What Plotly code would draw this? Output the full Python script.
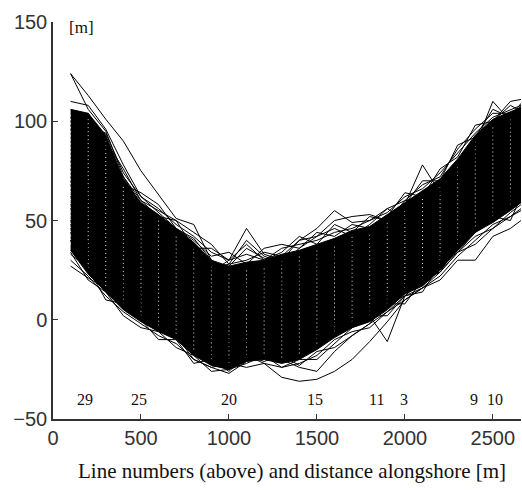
import plotly.graph_objects as go

# alongshore positions of the transects [m]
xs = [100, 200, 300, 400, 500, 600, 700, 800, 900, 1000, 1100, 1200, 1300,
      1400, 1500, 1600, 1700, 1800, 1900, 2000, 2100, 2200, 2300, 2400, 2500, 2600, 2660]

# envelope of the dense bundle of shorelines [m]
core_upper = [106, 104, 93, 71, 59, 53, 46, 39, 30, 27, 29, 30, 33, 35, 38, 41, 45, 47,
              53, 59, 65, 71, 81, 93, 101, 105, 107]
core_lower = [35, 23, 14, 5, -1, -6, -10, -18, -23, -25, -21, -20, -22, -20, -15, -9, -4, -1,
              5, 13, 17, 25, 35, 44, 49, 55, 59]

# individual shorelines that stand out from the bundle [m]
line_a = [124, 113, 101, 90, 75, 63, 51, 48, 30, 20, 15, 12, 14, 18, 24, 30, 36, 40, 45, 52, 58, 66, 75, 85, 95, 100, 103]
line_b = [124, 106, 95, 72, 60, 52, 44, 36, 26, 20, 14, 10, 12, 16, 22, 28, 34, 38, 44, 50, 56, 62, 70, 82, 92, 98, 100]
line_c = [110, 108, 96, 78, 62, 54, 46, 41, 30, 24, 18, 16, 18, 20, 24, 30, 36, 40, 46, 52, 58, 64, 72, 84, 94, 99, 101]
line_d = [80, 70, 60, 50, 42, 38, 35, 30, 24, 30, 46, 33, 30, 28, 30, 34, 38, 42, 48, 54, 60, 66, 74, 84, 94, 98, 100]
line_d2 = [76, 66, 56, 48, 40, 36, 33, 30, 26, 28, 40, 32, 29, 27, 29, 32, 36, 40, 46, 52, 58, 64, 72, 82, 92, 96, 98]
line_d3 = [72, 62, 52, 46, 38, 34, 31, 32, 27, 27, 36, 31, 28, 26, 28, 31, 35, 39, 45, 51, 57, 63, 71, 80, 90, 95, 97]
line_e = [70, 60, 52, 44, 38, 32, 28, 24, 18, 14, 16, 24, 30, 40, 46, 55, 49, 50, 56, 50, 60, 68, 78, 90, 98, 102, 104]
line_f = [68, 58, 50, 42, 36, 30, 26, 22, 16, 12, 14, 22, 28, 36, 42, 50, 52, 53, 50, 60, 62, 66, 76, 88, 96, 100, 102]
line_g = [62, 54, 46, 40, 34, 28, 24, 18, 12, 8, 10, 14, 20, 26, 32, 36, 40, 42, 50, 58, 78, 64, 76, 88, 98, 104, 106]
line_h = [58, 50, 42, 36, 30, 26, 20, 14, 8, 4, 6, 10, 16, 22, 28, 32, 36, 40, 46, 54, 62, 68, 80, 88, 110, 100, 108]
line_i = [56, 48, 40, 34, 28, 24, 18, 12, 6, 2, 4, 8, 14, 20, 26, 30, 34, 38, 44, 52, 60, 66, 76, 92, 100, 110, 111]
line_u1 = [100, 98, 94, 74, 62, 56, 48, 42, 34, 30, 33, 30, 36, 38, 40, 44, 46, 50, 54, 62, 66, 74, 84, 94, 102, 106, 108]
line_u2 = [96, 100, 90, 76, 60, 55, 50, 44, 38, 28, 30, 34, 32, 40, 42, 46, 42, 48, 56, 60, 68, 72, 86, 96, 104, 104, 107]
line_u3 = [102, 104, 88, 68, 64, 58, 46, 40, 32, 34, 28, 36, 38, 36, 44, 42, 48, 46, 52, 64, 62, 76, 82, 98, 100, 108, 105]
line_u4 = [98, 96, 86, 72, 58, 52, 50, 36, 36, 30, 38, 30, 34, 42, 38, 48, 44, 52, 50, 58, 70, 70, 88, 92, 106, 102, 109]
line_j = [27, 21, 16, 10, 5, 0, -8, -20, -24, -27, -21, -18, -16, -14, -10, -4, 0, 4, 10, 16, 22, 30, 40, 50, 56, 62, 66]
line_r = [33, 26, 18, 8, 2, -3, -6, -12, -18, -20, -16, -14, -12, -10, -6, -2, 2, 6, 12, 18, 24, 32, 42, 52, 58, 64, 68]
line_m = [40, 30, 20, 12, 6, 0, -4, -10, -16, -20, -18, -22, -29, -31, -30, -26, -20, -11, -1, 10, 16, 24, 34, 44, 52, 58, 62]
line_n = [44, 32, 22, 14, 8, 2, -2, -6, -10, -14, -12, -10, -10, -8, -6, -6, -1, 2, -11, 12, 20, 28, 38, 48, 54, 60, 64]
line_o = [46, 34, 24, 16, 10, 4, 0, -4, -8, -12, -12, -14, -20, -24, -26, -16, -8, -2, 4, 12, 20, 28, 38, 48, 54, 60, 64]
line_p = [48, 36, 26, 18, 12, 6, 2, -2, -6, -10, -10, -10, -12, -12, -10, -4, 0, 4, 8, 12, 16, 20, 30, 30, 42, 46, 50]
line_q = [50, 38, 28, 20, 14, 8, 4, 0, -4, -8, -8, -8, -10, -10, -8, -2, 2, 6, 10, 16, 20, 24, 34, 38, 46, 52, 55]
line_l1 = [30, 22, 12, 4, -2, -8, -12, -20, -24, -22, -24, -22, -24, -22, -18, -10, -6, -4, 4, 10, 16, 22, 32, 40, 48, 52, 56]
line_l2 = [34, 20, 14, 2, -4, -6, -14, -18, -26, -25, -22, -18, -24, -20, -20, -12, -4, 2, 2, 12, 14, 28, 34, 42, 46, 54, 58]
line_l3 = [40, 26, 10, 8, 0, -10, -10, -22, -20, -26, -18, -21, -18, -23, -16, -14, -8, -2, 8, 8, 20, 24, 38, 44, 52, 50, 62]

shorelines = [line_a, line_b, line_c, line_d, line_d2, line_d3, line_e, line_f, line_g,
              line_h, line_i, line_u1, line_u2, line_u3, line_u4, line_j, line_r, line_m,
              line_n, line_o, line_p, line_q, line_l1, line_l2, line_l3]

# transect (line) numbers written above the axis
line_numbers = ["29", "25", "20", "15", "11", "3", "9", "10"]
line_number_pos = [180, 490, 1000, 1490, 1840, 1995, 2390, 2515]

x_ticks = [0, 500, 1000, 1500, 2000, 2500]
y_ticks = [-50, 0, 50, 100, 150]

fig = go.Figure()

# dense bundle
fig.add_trace(go.Scatter(
    x=xs + xs[::-1], y=core_upper + core_lower[::-1],
    fill="toself", fillcolor="black", mode="lines",
    line=dict(color="black", width=1), hoverinfo="skip"))

# white dotted transect marks inside the bundle
for xv, lo, hi in zip(xs[:-1], core_lower[:-1], core_upper[:-1]):
    fig.add_trace(go.Scatter(
        x=[xv, xv], y=[lo + 3, hi - 3], mode="lines",
        line=dict(color="rgba(255,255,255,0.9)", width=1, dash="1px,3px"),
        hoverinfo="skip"))

for ys in shorelines:
    fig.add_trace(go.Scatter(x=xs, y=ys, mode="lines",
                             line=dict(color="black", width=1), hoverinfo="skip"))

serif = "Liberation Serif, Times New Roman, serif"
sans = "Liberation Sans, Arial, sans-serif"

annotations = []
for txt, xp in zip(line_numbers, line_number_pos):
    annotations.append(dict(x=xp, y=-40, xref="x", yref="y", text=txt, showarrow=False,
                            font=dict(family=serif, size=16, color="#111"),
                            xanchor="center", yanchor="middle"))
annotations.append(dict(x=160, y=147, xref="x", yref="y", text="[m]", showarrow=False,
                        font=dict(family=serif, size=17, color="#111"),
                        xanchor="center", yanchor="middle"))
annotations.append(dict(x=0.511, y=-0.13, xref="paper", yref="paper",
                        text="Line numbers (above) and distance alongshore [m]",
                        showarrow=False, font=dict(family=serif, size=21, color="#111"),
                        xanchor="center", yanchor="middle"))

fig.update_layout(
    width=522, height=490,
    margin=dict(l=53, r=1, t=22, b=71),
    plot_bgcolor="white", paper_bgcolor="white",
    showlegend=False,
    annotations=annotations,
    xaxis=dict(range=[0, 2660], tickvals=x_ticks, ticks="inside", ticklen=5,
               tickcolor="#333", showline=True, linecolor="#333", linewidth=1.5,
               showgrid=False, zeroline=False,
               tickfont=dict(family=sans, size=20, color="#333")),
    yaxis=dict(range=[-50, 150], tickvals=y_ticks, ticks="inside", ticklen=5,
               tickcolor="#333", showline=True, linecolor="#333", linewidth=1.5,
               showgrid=False, zeroline=False,
               tickfont=dict(family=sans, size=20, color="#333")),
)

fig.write_html("out.html")
